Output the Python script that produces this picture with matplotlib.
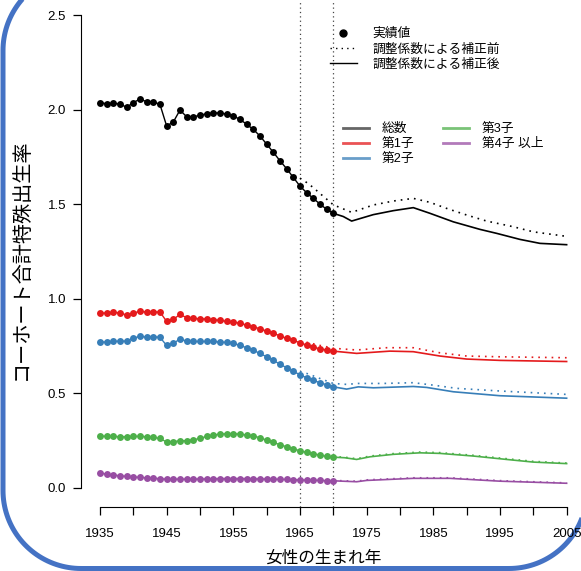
import numpy as np
import matplotlib
matplotlib.use('Agg')
import matplotlib.pyplot as plt
from matplotlib.lines import Line2D
from matplotlib.path import Path
from matplotlib.patches import PathPatch

plt.rcParams['font.family'] = ['Liberation Sans', 'Noto Sans CJK JP']

years = list(range(1935, 1971))
total = [2.037, 2.032, 2.034, 2.030, 2.013, 2.037, 2.057, 2.042, 2.042, 2.028,
         1.914, 1.935, 1.998, 1.963, 1.963, 1.970, 1.979, 1.983, 1.983, 1.977,
         1.967, 1.949, 1.923, 1.896, 1.861, 1.818, 1.775, 1.730, 1.688, 1.642,
         1.596, 1.561, 1.531, 1.501, 1.473, 1.452]
first = [0.923, 0.925, 0.928, 0.925, 0.914, 0.925, 0.933, 0.930, 0.930, 0.930,
         0.880, 0.891, 0.917, 0.900, 0.896, 0.894, 0.893, 0.889, 0.886, 0.880,
         0.877, 0.870, 0.861, 0.852, 0.841, 0.829, 0.817, 0.804, 0.790, 0.780,
         0.767, 0.755, 0.744, 0.735, 0.729, 0.723]
second = [0.771, 0.771, 0.774, 0.776, 0.776, 0.792, 0.801, 0.797, 0.799, 0.796,
          0.753, 0.764, 0.787, 0.776, 0.774, 0.774, 0.774, 0.774, 0.771, 0.769,
          0.764, 0.753, 0.741, 0.727, 0.711, 0.693, 0.674, 0.654, 0.635, 0.616,
          0.598, 0.582, 0.568, 0.556, 0.545, 0.534]
third = [0.274, 0.272, 0.272, 0.270, 0.270, 0.272, 0.272, 0.270, 0.267, 0.261,
         0.242, 0.244, 0.249, 0.249, 0.254, 0.261, 0.272, 0.279, 0.284, 0.286,
         0.286, 0.284, 0.279, 0.274, 0.265, 0.252, 0.240, 0.228, 0.217, 0.206,
         0.196, 0.187, 0.180, 0.173, 0.166, 0.162]
fourth = [0.079, 0.072, 0.067, 0.064, 0.060, 0.058, 0.055, 0.053, 0.051, 0.048,
          0.046, 0.046, 0.046, 0.046, 0.046, 0.047, 0.047, 0.048, 0.049, 0.049,
          0.049, 0.049, 0.049, 0.048, 0.047, 0.047, 0.046, 0.045, 0.044, 0.043,
          0.042, 0.041, 0.040, 0.039, 0.038, 0.037]

# after correction (solid)
total_py = [1970, 1971.5, 1972.75, 1976, 1979, 1982, 1984.5, 1988, 1992, 1994.5, 1998, 2001, 2005]
total_p = [1.452, 1.435, 1.411, 1.445, 1.466, 1.482, 1.452, 1.407, 1.367, 1.346, 1.314, 1.293, 1.286]
first_py = [1970, 1973.5, 1978.5, 1982, 1986, 1990, 1995, 2005]
first_p = [0.723, 0.711, 0.723, 0.720, 0.697, 0.681, 0.674, 0.668]
second_py = [1970, 1972, 1973.75, 1976, 1982, 1984, 1988, 1995, 2005]
second_p = [0.534, 0.522, 0.534, 0.529, 0.536, 0.531, 0.508, 0.487, 0.474]
third_py = [1970, 1971.7, 1973.5, 1975.5, 1979, 1983, 1986, 1991, 1996, 2000, 2005]
third_p = [0.162, 0.159, 0.150, 0.164, 0.177, 0.185, 0.182, 0.168, 0.150, 0.136, 0.128]
fourth_py = [1970, 1973.5, 1975, 1982, 1987.5, 1995, 2005]
fourth_p = [0.037, 0.032, 0.039, 0.050, 0.050, 0.035, 0.024]

# before correction (dotted)
total_qy = [1965, 1966, 1967, 1968, 1969, 1970, 1972.75, 1976, 1979, 1982, 1984.5, 1987, 1990, 1993, 1997, 2000, 2005]
total_q = [1.638, 1.615, 1.588, 1.557, 1.527, 1.497, 1.457, 1.496, 1.517, 1.531, 1.510, 1.478, 1.443, 1.411, 1.381, 1.354, 1.330]
first_qy = [1965, 1966, 1967, 1968, 1969, 1970, 1973.5, 1978, 1982, 1986, 1990, 1995, 2005]
first_q = [0.778, 0.770, 0.762, 0.753, 0.746, 0.738, 0.729, 0.741, 0.741, 0.714, 0.697, 0.693, 0.688]
second_qy = [1965, 1966, 1967, 1968, 1969, 1970, 1972, 1973.75, 1977.5, 1982, 1985, 1988.5, 1995, 2005]
second_q = [0.615, 0.605, 0.592, 0.578, 0.565, 0.552, 0.547, 0.552, 0.552, 0.556, 0.543, 0.526, 0.512, 0.494]
third_qy = [1965, 1970, 1971.7, 1973.5, 1975.5, 1979, 1983, 1986, 1991, 1996, 2000, 2005]
third_q = [0.198, 0.165, 0.162, 0.154, 0.168, 0.181, 0.189, 0.186, 0.172, 0.154, 0.140, 0.131]
fourth_qy = [1965, 1970, 1973.5, 1975, 1982, 1987.5, 1995, 2005]
fourth_q = [0.043, 0.039, 0.035, 0.042, 0.053, 0.053, 0.038, 0.026]

names = ['総数', '第1子', '第2子', '第3子', '第4子 以上']
colors = ['black', '#E41A1C', '#377EB8', '#4DAF4A', '#984EA3']
actual = [total, first, second, third, fourth]
proj = [(total_py, total_p), (first_py, first_p), (second_py, second_p),
        (third_py, third_p), (fourth_py, fourth_p)]
pre = [(total_qy, total_q), (first_qy, first_q), (second_qy, second_q),
       (third_qy, third_q), (fourth_qy, fourth_q)]

fig = plt.figure(figsize=(5.81, 5.71), dpi=100)

# blue rounded frame in pixel units, top-right corner lies off the canvas
bg = fig.add_axes([0, 0, 1, 1], zorder=-1)
bg.set_xlim(0, 581)
bg.set_ylim(0, 571)
bg.axis('off')


def arc(cx, cy, r, a0, a1):
    t = np.radians(np.linspace(a0, a1, 40))
    return list(zip(cx + r * np.cos(t), cy + r * np.sin(t)))


L, B, R, T, r = 3, 2.5, 587, 598.5, 78
pts = ([(R, T)] + arc(L + r, T - r, r, 90, 180) + arc(L + r, B + r, r, 180, 270)
       + arc(R - r, B + r, r, 270, 360) + [(R, T)])
bg.add_patch(PathPatch(Path(pts, closed=True), fill=False, ec='#4472C4', lw=3.6, clip_on=False))

ax = fig.add_axes([81.3 / 581, 64.3 / 571, 504 / 581, 510.4 / 571])
ax.patch.set_alpha(0)
ax.set_xlim(1932.2, 2007.8)
ax.set_ylim(-0.1, 2.6)

ax.axvline(1965, color='#444444', lw=0.9, ls=(0, (1, 2.5)))
ax.axvline(1970, color='#444444', lw=0.9, ls=(0, (1, 2.5)))

for i in range(5):
    c = colors[i]
    ax.plot(pre[i][0], pre[i][1], color=c, lw=1.2, ls=(0, (1, 3)))
    ax.plot(proj[i][0], proj[i][1], color=c, lw=1.2)
    ax.plot(years, actual[i], color=c, lw=1.0, marker='o', ms=5, mew=0)

for s in ['top', 'right']:
    ax.spines[s].set_visible(False)
ax.spines['left'].set_bounds(0, 2.5)
ax.spines['bottom'].set_bounds(1935, 2005)

xt = list(range(1935, 2006, 5))
ax.set_xticks(xt)
ax.set_xticklabels([str(t) if (t - 1935) % 10 == 0 else '' for t in xt])
ax.set_yticks([0, 0.5, 1.0, 1.5, 2.0, 2.5])
ax.set_yticklabels(['0.0', '0.5', '1.0', '1.5', '2.0', '2.5'])
ax.tick_params(axis='x', length=5.5, width=0.9, pad=10, labelsize=9.5)
ax.tick_params(axis='y', length=6, width=0.9, pad=5, labelsize=9.5)
ax.set_xlabel('女性の生まれ年', fontsize=12)
ax.xaxis.set_label_coords(0.48, -0.085)
ax.set_ylabel('コーホート合計特殊出生率', fontsize=14.5)
ax.yaxis.set_label_coords(-0.101, 0.485)

h1 = [Line2D([], [], color='black', marker='o', ms=5, ls='none'),
      Line2D([], [], color='black', lw=1.0, ls=(0, (1, 3))),
      Line2D([], [], color='black', lw=1.0)]
leg1 = ax.legend(h1, ['実績値', '調整係数による補正前', '調整係数による補正後'],
                 loc='upper left', bbox_to_anchor=(330 / 581, 1 - 28 / 571),
                 bbox_transform=fig.transFigure, frameon=False, fontsize=9.2,
                 handlelength=2.1, handletextpad=1.2, labelspacing=0.25,
                 borderpad=0, borderaxespad=0)
ax.add_artist(leg1)

h2 = [Line2D([], [], color='#333333' if i == 0 else colors[i], lw=2, alpha=0.75) for i in range(5)]
ax.legend(h2, names, ncol=2, loc='upper left', bbox_to_anchor=(343 / 581, 1 - 123 / 571),
          bbox_transform=fig.transFigure, frameon=False, fontsize=9.2,
          handlelength=2.0, handletextpad=1.0, labelspacing=0.25, columnspacing=2.3,
          borderpad=0, borderaxespad=0)

fig.savefig('out.png', dpi=100)
